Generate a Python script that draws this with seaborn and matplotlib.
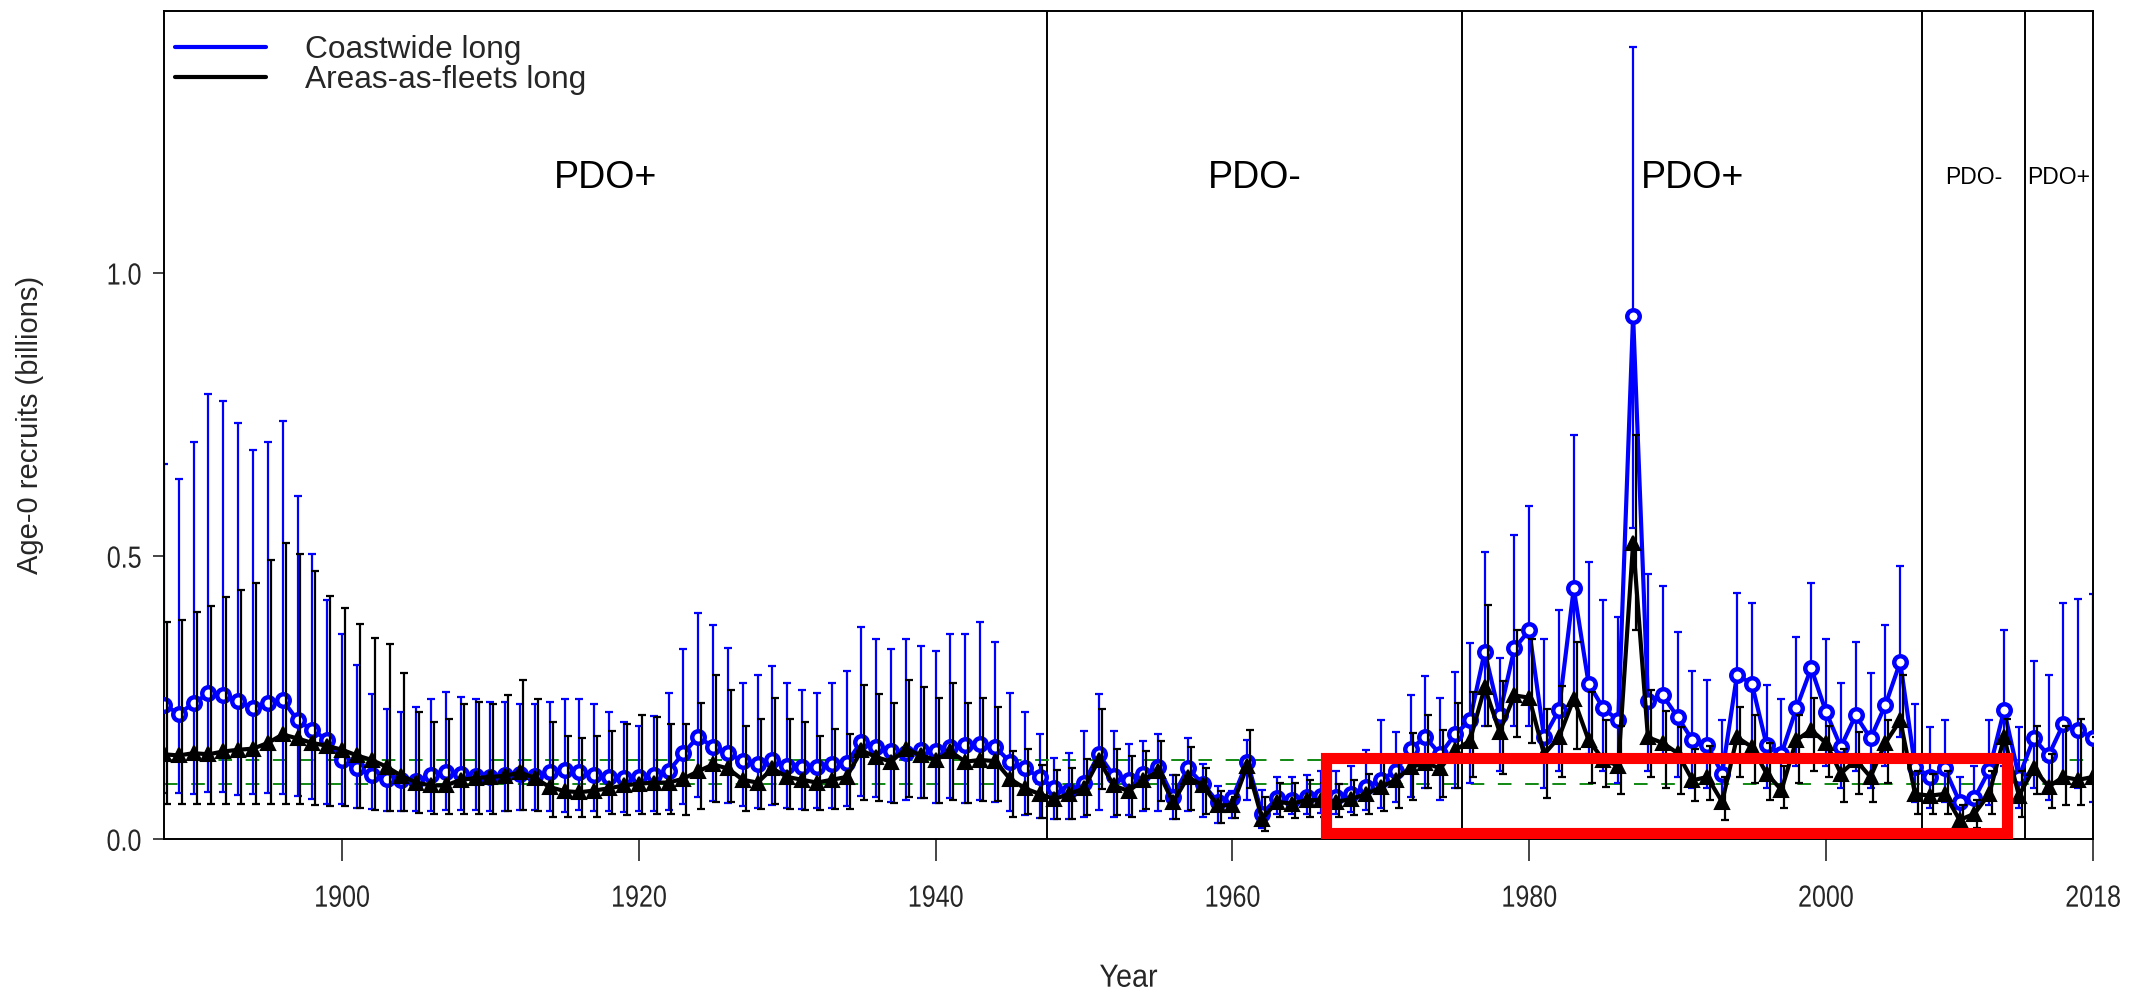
import numpy as np
import pandas as pd
import seaborn as sns
import matplotlib
matplotlib.use('Agg')
import matplotlib.pyplot as plt
from matplotlib.patches import Rectangle
from matplotlib.lines import Line2D
from matplotlib.patheffects import AbstractPathEffect
from matplotlib.transforms import Affine2D

# recruitment estimates, 1888-2018
years = list(range(1888, 2019))

coast = [0.237, 0.222, 0.240, 0.258, 0.255, 0.245, 0.231, 0.240, 0.246, 0.210,
         0.193, 0.175, 0.140, 0.125, 0.113, 0.107, 0.105, 0.102, 0.113, 0.119,
         0.115, 0.112, 0.110, 0.113, 0.115, 0.112, 0.118, 0.122, 0.118, 0.113,
         0.110, 0.108, 0.110, 0.113, 0.120, 0.152, 0.181, 0.163, 0.152, 0.138,
         0.132, 0.140, 0.129, 0.127, 0.128, 0.132, 0.135, 0.172, 0.163, 0.155,
         0.152, 0.157, 0.155, 0.163, 0.166, 0.169, 0.163, 0.137, 0.125, 0.110,
         0.090, 0.085, 0.100, 0.150, 0.112, 0.105, 0.115, 0.128, 0.075, 0.125,
         0.098, 0.066, 0.072, 0.137, 0.045, 0.072, 0.070, 0.075, 0.076, 0.074,
         0.080, 0.092, 0.105, 0.120, 0.160, 0.180, 0.150, 0.185, 0.210, 0.331,
         0.220, 0.337, 0.369, 0.180, 0.228, 0.443, 0.275, 0.231, 0.210, 0.925,
         0.245, 0.254, 0.216, 0.175, 0.166, 0.116, 0.290, 0.275, 0.166, 0.151,
         0.231, 0.302, 0.225, 0.163, 0.219, 0.178, 0.237, 0.313, 0.128, 0.110,
         0.125, 0.066, 0.072, 0.122, 0.228, 0.110, 0.178, 0.148, 0.204, 0.193,
         0.178]
coast_hi = [0.663, 0.636, 0.701, 0.786, 0.774, 0.735, 0.687, 0.701, 0.739, 0.606,
            0.503, 0.422, 0.362, 0.307, 0.256, 0.230, 0.225, 0.234, 0.247, 0.260,
            0.251, 0.247, 0.243, 0.243, 0.238, 0.238, 0.243, 0.248, 0.248, 0.238,
            0.225, 0.207, 0.200, 0.217, 0.259, 0.336, 0.400, 0.379, 0.337, 0.276,
            0.290, 0.306, 0.276, 0.264, 0.259, 0.276, 0.298, 0.375, 0.353, 0.336,
            0.353, 0.341, 0.332, 0.362, 0.362, 0.383, 0.349, 0.259, 0.225, 0.186,
            0.144, 0.152, 0.191, 0.256, 0.191, 0.169, 0.173, 0.186, 0.114, 0.178,
            0.132, 0.094, 0.085, 0.176, 0.087, 0.110, 0.110, 0.113, 0.120, 0.120,
            0.129, 0.158, 0.210, 0.189, 0.254, 0.289, 0.250, 0.295, 0.346, 0.508,
            0.320, 0.537, 0.588, 0.353, 0.405, 0.714, 0.490, 0.422, 0.393, 1.400,
            0.469, 0.447, 0.366, 0.297, 0.281, 0.211, 0.435, 0.417, 0.272, 0.247,
            0.357, 0.452, 0.353, 0.276, 0.349, 0.293, 0.378, 0.482, 0.238, 0.198,
            0.211, 0.110, 0.130, 0.211, 0.370, 0.198, 0.314, 0.290, 0.417, 0.425,
            0.434]
coast_lo = [0.081, 0.081, 0.080, 0.084, 0.084, 0.079, 0.080, 0.081, 0.080, 0.077,
            0.071, 0.063, 0.063, 0.056, 0.053, 0.050, 0.050, 0.050, 0.050, 0.052,
            0.051, 0.051, 0.049, 0.049, 0.051, 0.051, 0.049, 0.048, 0.051, 0.050,
            0.050, 0.048, 0.049, 0.050, 0.052, 0.062, 0.075, 0.068, 0.064, 0.058,
            0.056, 0.060, 0.055, 0.054, 0.055, 0.056, 0.058, 0.076, 0.075, 0.066,
            0.070, 0.072, 0.064, 0.072, 0.064, 0.070, 0.066, 0.049, 0.043, 0.037,
            0.035, 0.035, 0.040, 0.052, 0.040, 0.043, 0.049, 0.049, 0.035, 0.049,
            0.040, 0.028, 0.037, 0.070, 0.020, 0.045, 0.045, 0.045, 0.047, 0.045,
            0.048, 0.052, 0.055, 0.065, 0.075, 0.090, 0.070, 0.090, 0.100, 0.200,
            0.120, 0.200, 0.200, 0.090, 0.120, 0.250, 0.150, 0.120, 0.100, 0.550,
            0.120, 0.140, 0.110, 0.090, 0.090, 0.060, 0.170, 0.160, 0.090, 0.080,
            0.130, 0.180, 0.130, 0.090, 0.120, 0.090, 0.130, 0.180, 0.065, 0.055,
            0.065, 0.030, 0.035, 0.060, 0.130, 0.055, 0.090, 0.070, 0.100, 0.090,
            0.065]

aaf = [0.150, 0.148, 0.152, 0.150, 0.155, 0.158, 0.160, 0.170, 0.185, 0.178,
       0.170, 0.165, 0.158, 0.148, 0.140, 0.128, 0.112, 0.100, 0.095, 0.095,
       0.105, 0.108, 0.110, 0.112, 0.118, 0.108, 0.092, 0.085, 0.083, 0.086,
       0.090, 0.095, 0.098, 0.100, 0.100, 0.107, 0.120, 0.132, 0.125, 0.105,
       0.100, 0.125, 0.110, 0.105, 0.100, 0.105, 0.110, 0.157, 0.145, 0.137,
       0.160, 0.148, 0.140, 0.155, 0.137, 0.140, 0.138, 0.107, 0.090, 0.080,
       0.071, 0.080, 0.090, 0.140, 0.095, 0.085, 0.105, 0.120, 0.065, 0.110,
       0.095, 0.060, 0.060, 0.130, 0.036, 0.066, 0.063, 0.069, 0.069, 0.066,
       0.071, 0.080, 0.092, 0.105, 0.127, 0.135, 0.125, 0.157, 0.174, 0.268,
       0.190, 0.254, 0.250, 0.150, 0.180, 0.248, 0.175, 0.140, 0.130, 0.523,
       0.180, 0.170, 0.152, 0.104, 0.110, 0.066, 0.180, 0.163, 0.116, 0.087,
       0.175, 0.193, 0.170, 0.116, 0.140, 0.110, 0.170, 0.210, 0.080, 0.077,
       0.080, 0.034, 0.045, 0.080, 0.180, 0.077, 0.125, 0.093, 0.110, 0.105,
       0.110]
aaf_hi = [0.384, 0.388, 0.401, 0.412, 0.427, 0.440, 0.453, 0.494, 0.524, 0.503,
          0.473, 0.430, 0.409, 0.380, 0.355, 0.345, 0.294, 0.225, 0.207, 0.213,
          0.238, 0.242, 0.238, 0.254, 0.281, 0.247, 0.207, 0.183, 0.178, 0.183,
          0.191, 0.203, 0.220, 0.216, 0.204, 0.204, 0.241, 0.290, 0.264, 0.200,
          0.212, 0.250, 0.212, 0.207, 0.183, 0.195, 0.186, 0.272, 0.256, 0.241,
          0.281, 0.268, 0.250, 0.276, 0.241, 0.250, 0.234, 0.156, 0.159, 0.131,
          0.122, 0.126, 0.141, 0.230, 0.159, 0.147, 0.156, 0.173, 0.114, 0.163,
          0.125, 0.085, 0.075, 0.193, 0.075, 0.100, 0.100, 0.105, 0.100, 0.098,
          0.105, 0.115, 0.148, 0.140, 0.187, 0.219, 0.193, 0.240, 0.260, 0.413,
          0.280, 0.370, 0.354, 0.230, 0.270, 0.349, 0.260, 0.210, 0.200, 0.714,
          0.263, 0.227, 0.199, 0.160, 0.165, 0.110, 0.233, 0.220, 0.170, 0.130,
          0.220, 0.250, 0.200, 0.160, 0.190, 0.150, 0.210, 0.290, 0.120, 0.115,
          0.120, 0.060, 0.070, 0.120, 0.213, 0.120, 0.200, 0.150, 0.200, 0.213,
          0.180]
aaf_lo = [0.063, 0.063, 0.063, 0.063, 0.063, 0.063, 0.063, 0.063, 0.063, 0.063,
          0.060, 0.058, 0.058, 0.056, 0.052, 0.050, 0.049, 0.047, 0.045, 0.045,
          0.045, 0.045, 0.045, 0.049, 0.051, 0.049, 0.040, 0.040, 0.040, 0.040,
          0.045, 0.043, 0.045, 0.045, 0.045, 0.043, 0.054, 0.066, 0.066, 0.049,
          0.054, 0.062, 0.054, 0.051, 0.051, 0.054, 0.054, 0.070, 0.068, 0.064,
          0.075, 0.072, 0.064, 0.070, 0.064, 0.068, 0.068, 0.040, 0.045, 0.037,
          0.035, 0.036, 0.043, 0.088, 0.043, 0.040, 0.054, 0.068, 0.035, 0.051,
          0.045, 0.028, 0.037, 0.090, 0.015, 0.040, 0.038, 0.040, 0.040, 0.040,
          0.042, 0.045, 0.050, 0.055, 0.070, 0.090, 0.075, 0.090, 0.110, 0.200,
          0.115, 0.180, 0.170, 0.072, 0.110, 0.160, 0.100, 0.092, 0.080, 0.370,
          0.110, 0.090, 0.080, 0.068, 0.070, 0.034, 0.110, 0.100, 0.070, 0.055,
          0.100, 0.120, 0.110, 0.065, 0.080, 0.065, 0.100, 0.140, 0.045, 0.045,
          0.045, 0.015, 0.020, 0.045, 0.120, 0.040, 0.080, 0.055, 0.060, 0.060,
          0.060]

period_breaks = [1947.5, 1975.5, 2006.5, 2013.4]
period_labels = ['PDO+', 'PDO-', 'PDO+', 'PDO-', 'PDO+']
ref_levels = [0.1396, 0.097]
box_x = [1966.3, 2012.2]
box_y = [0.011, 0.143]


class Squeeze(AbstractPathEffect):
    # squash text horizontally, the reference axis labels use a condensed face
    def __init__(self, sx=0.85, anchor='center'):
        super().__init__()
        self.sx = sx
        self.anchor = anchor

    def draw_path(self, renderer, gc, tpath, affine, rgbFace=None):
        bb = tpath.get_extents(affine)
        cx = {'center': (bb.x0 + bb.x1) / 2, 'right': bb.x1, 'left': bb.x0}[self.anchor]
        aff = affine + Affine2D().translate(-cx, 0).scale(self.sx, 1).translate(cx, 0)
        renderer.draw_path(gc, tpath, aff, rgbFace)


sns.set_style('ticks')
plt.rcParams['font.family'] = ['Liberation Sans', 'DejaVu Sans']

df = pd.DataFrame({'Year': years * 2,
                   'rec': coast + aaf,
                   'model': ['Coastwide long'] * len(years) + ['Areas-as-fleets long'] * len(years)})

fig = plt.figure(figsize=(21.49, 9.92), dpi=100)
ax = fig.add_axes([0.0763, 0.154, 0.8977, 0.835])

yr = np.array(years, dtype=float)
c = np.array(coast); a = np.array(aaf)
ax.errorbar(yr, c, yerr=[c - np.array(coast_lo), np.array(coast_hi) - c], fmt='none',
            ecolor='#0000FF', elinewidth=1.6, capsize=3, capthick=1.6, zorder=2)
sns.lineplot(data=df[df.model == 'Coastwide long'], x='Year', y='rec', color='#0000FF',
             marker='o', markersize=9, markerfacecolor='white', markeredgecolor='#0000FF',
             markeredgewidth=3.2, linewidth=3.0, ax=ax, zorder=3, legend=False)
ax.errorbar(yr + 0.2, a, yerr=[a - np.array(aaf_lo), np.array(aaf_hi) - a], fmt='none',
            ecolor='black', elinewidth=1.6, capsize=3, capthick=1.6, zorder=4)
sns.lineplot(data=df[df.model == 'Areas-as-fleets long'], x='Year', y='rec', color='black',
             marker='^', markersize=10, markeredgecolor='black', markeredgewidth=1.5,
             linewidth=3.0, ax=ax, zorder=5, legend=False)

for b in period_breaks:
    ax.axvline(b, color='black', lw=1.4, zorder=1)
for lvl in ref_levels:
    ax.axhline(lvl, color='#118811', lw=1.4, ls=(0, (7, 7)), zorder=1)

ax.add_patch(Rectangle((box_x[0], box_y[0]), box_x[1] - box_x[0], box_y[1] - box_y[0],
                       fill=False, edgecolor='#FF0000', lw=8, zorder=6))

ax.set_xlim(1888, 2018)
ax.set_ylim(0, 1.463)

# PDO regime labels centred in each period
edges = [1888] + period_breaks + [2018]
sizes = [27, 27, 27, 16.5, 16.5]
for i, lab in enumerate(period_labels):
    ax.text((edges[i] + edges[i + 1]) / 2, 1.168, lab, ha='center', va='center',
            fontsize=sizes[i], color='black')

ax.set_xticks([1900, 1920, 1940, 1960, 1980, 2000, 2018])
ax.set_yticks([0.0, 0.5, 1.0])
ax.set_yticklabels(['0.0', '0.5', '1.0'])
ax.tick_params(axis='x', direction='out', length=16, width=1.2, pad=16, labelsize=22)
ax.tick_params(axis='y', direction='out', length=8, width=1.2, pad=8, labelsize=22)
for t in ax.get_xticklabels():
    t.set_path_effects([Squeeze(0.82, 'center')])
for t in ax.get_yticklabels():
    t.set_path_effects([Squeeze(0.82, 'right')])
ax.set_xlabel('Year', fontsize=23, labelpad=36)
ax.xaxis.label.set_path_effects([Squeeze(0.9, 'center')])
ax.set_ylabel('Age-0 recruits (billions)', fontsize=21, labelpad=40)
for s in ax.spines.values():
    s.set_linewidth(1.4)
    s.set_color('black')

handles = [Line2D([], [], color='#0000FF', lw=3), Line2D([], [], color='black', lw=3)]
ax.legend(handles, ['Coastwide long', 'Areas-as-fleets long'], loc='upper left',
          bbox_to_anchor=(-0.0064, 1.0), frameon=False, fontsize=22.8, handlelength=2.85,
          handletextpad=1.25, labelspacing=0.0, borderaxespad=0.55, borderpad=0.2)

fig.savefig('out.png', dpi=100)
